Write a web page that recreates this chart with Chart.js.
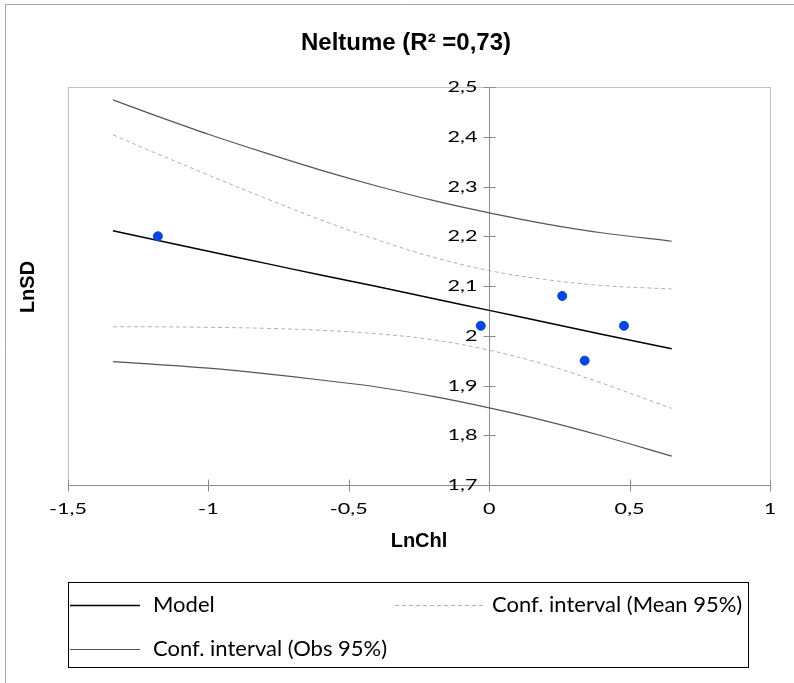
<!DOCTYPE html>
<html>
<head>
<meta charset="utf-8">
<script src="https://cdn.jsdelivr.net/npm/chart.js@4"></script>
<style>
  body { margin: 0; background: #fff; }
  canvas { display: block; }
</style>
</head>
<body>
<canvas id="chart" width="794" height="683"></canvas>
<script>
// observations
const obsX = [-1.18, -0.03, 0.26, 0.34, 0.48];
const obsY = [2.20, 2.02, 2.08, 1.95, 2.02];

// model and confidence bands
const curveX = [-1.34, -1.2, -1.0, -0.8, -0.6, -0.4, -0.2, 0, 0.2, 0.4, 0.65];
const model  = [2.211, 2.194, 2.170, 2.146, 2.122, 2.099, 2.075, 2.051, 2.027, 2.003, 1.974];
const meanUp = [2.404, 2.370, 2.323, 2.277, 2.233, 2.193, 2.158, 2.131, 2.113, 2.101, 2.094];
const meanLo = [2.018, 2.018, 2.017, 2.015, 2.011, 2.004, 1.992, 1.971, 1.942, 1.905, 1.854];
const obsUp  = [2.474, 2.445, 2.405, 2.368, 2.333, 2.301, 2.272, 2.247, 2.225, 2.207, 2.190];
const obsLo  = [1.948, 1.943, 1.935, 1.924, 1.911, 1.897, 1.878, 1.855, 1.829, 1.799, 1.758];

const xTicks = [-1.5, -1, -0.5, 0, 0.5, 1];
const yTicks = [1.7, 1.8, 1.9, 2.0, 2.1, 2.2, 2.3, 2.4, 2.5];

const toPts = (xs, ys) => xs.map((x, i) => ({ x: x, y: ys[i] }));
const fmt = v => String(Math.round(v * 10) / 10).replace('.', ',');

// text drawn a bit wider, like the original picture
function wideText(ctx, text, x, y, sx) {
    ctx.save();
    ctx.translate(x, y);
    ctx.scale(sx, 1);
    ctx.fillText(text, 0, 0);
    ctx.restore();
}

const axesPlugin = {
    id: 'axesPlugin',
    beforeDatasetsDraw(chart) {
        const ctx = chart.ctx;
        const area = chart.chartArea;
        const xs = chart.scales.x, ys = chart.scales.y;
        ctx.save();
        // outer chart border
        ctx.strokeStyle = '#a6a6a6';
        ctx.lineWidth = 1;
        ctx.beginPath();
        ctx.moveTo(5.5, 690); ctx.lineTo(5.5, 4.5); ctx.lineTo(800, 4.5);
        ctx.stroke();
        // plot area border
        ctx.strokeStyle = '#c0c0c0';
        ctx.strokeRect(Math.round(area.left) + 0.5, Math.round(area.top) + 0.5,
            Math.round(area.right - area.left), Math.round(area.bottom - area.top));

        ctx.strokeStyle = '#8c8c8c';
        // x axis
        const yBase = Math.round(ys.getPixelForValue(1.7)) + 0.5;
        ctx.beginPath();
        ctx.moveTo(area.left, yBase); ctx.lineTo(area.right, yBase);
        xTicks.forEach(t => {
            const px = Math.round(xs.getPixelForValue(t)) + 0.5;
            ctx.moveTo(px, yBase - 6); ctx.lineTo(px, yBase + 6);
        });
        // y axis at x = 0
        const xBase = Math.round(xs.getPixelForValue(0)) + 0.5;
        ctx.moveTo(xBase, area.top); ctx.lineTo(xBase, area.bottom + 6);
        yTicks.forEach(t => {
            const py = Math.round(ys.getPixelForValue(t)) + 0.5;
            ctx.moveTo(xBase - 6, py); ctx.lineTo(xBase + 6, py);
        });
        ctx.stroke();

        // tick labels
        ctx.fillStyle = '#000';
        ctx.font = '16px Lato';
        ctx.textAlign = 'center';
        ctx.textBaseline = 'middle';
        xTicks.forEach(t => {
            wideText(ctx, fmt(t), xs.getPixelForValue(t), yBase + 23, 1.35);
        });
        ctx.textAlign = 'right';
        yTicks.forEach(t => {
            wideText(ctx, fmt(t), xBase - 12, ys.getPixelForValue(t), 1.35);
        });

        // title and axis titles
        ctx.textAlign = 'center';
        ctx.font = 'bold 24px "Liberation Sans"';
        ctx.fillText('Neltume (R² =0,73)', 406, 43);
        ctx.font = 'bold 20px "Liberation Sans"';
        ctx.fillText('LnChl', 419, 541);
        ctx.save();
        ctx.translate(28, 287);
        ctx.rotate(-Math.PI / 2);
        ctx.fillText('LnSD', 0, 0);
        ctx.restore();
        ctx.restore();
    },
    afterDraw(chart) {
        // legend box
        const ctx = chart.ctx;
        const ds = chart.data.datasets;
        ctx.save();
        ctx.strokeStyle = '#000';
        ctx.lineWidth = 1;
        ctx.strokeRect(68.5, 582.5, 680, 85);
        const entries = [
            { d: ds[1], x0: 70, x1: 140, y: 605, tx: 153 },
            { d: ds[2], x0: 395, x1: 486, y: 605, tx: 492 },
            { d: ds[4], x0: 70, x1: 140, y: 649, tx: 153 }
        ];
        ctx.font = '22px Lato';
        ctx.textBaseline = 'middle';
        ctx.textAlign = 'left';
        ctx.fillStyle = '#000';
        entries.forEach(e => {
            ctx.strokeStyle = e.d.borderColor;
            ctx.lineWidth = e.d.borderWidth;
            ctx.setLineDash(e.d.borderDash || []);
            ctx.beginPath();
            ctx.moveTo(e.x0, e.y + 0.5); ctx.lineTo(e.x1, e.y + 0.5);
            ctx.stroke();
            ctx.fillText(e.d.label, e.tx, e.y);
        });
        ctx.restore();
    }
};

const lineDs = (label, data, color, width, dash) => ({
    label: label,
    data: data,
    showLine: true,
    borderColor: color,
    borderWidth: width,
    borderDash: dash,
    pointRadius: 0,
    tension: 0.35,
    fill: false
});

new Chart(document.getElementById('chart').getContext('2d'), {
    type: 'scatter',
    data: {
        datasets: [
            {
                label: 'Observations',
                data: toPts(obsX, obsY),
                backgroundColor: '#0645e6',
                borderColor: '#0645e6',
                pointRadius: 4.5,
                order: 0
            },
            lineDs('Model', toPts(curveX, model), '#000000', 1.5, []),
            lineDs('Conf. interval (Mean 95%)', toPts(curveX, meanUp), '#b0b0b0', 1, [4, 3]),
            lineDs('Conf. interval (Mean 95%)', toPts(curveX, meanLo), '#b0b0b0', 1, [4, 3]),
            lineDs('Conf. interval (Obs 95%)', toPts(curveX, obsUp), '#555555', 1.2, []),
            lineDs('Conf. interval (Obs 95%)', toPts(curveX, obsLo), '#555555', 1.2, [])
        ]
    },
    options: {
        responsive: false,
        animation: false,
        layout: {
            padding: { left: 68, right: 24, top: 87, bottom: 198 }
        },
        scales: {
            x: { type: 'linear', min: -1.5, max: 1, display: false },
            y: { type: 'linear', min: 1.7, max: 2.5, display: false }
        },
        plugins: {
            legend: { display: false },
            title: { display: false },
            tooltip: { enabled: false }
        }
    },
    plugins: [axesPlugin]
});
</script>
</body>
</html>
